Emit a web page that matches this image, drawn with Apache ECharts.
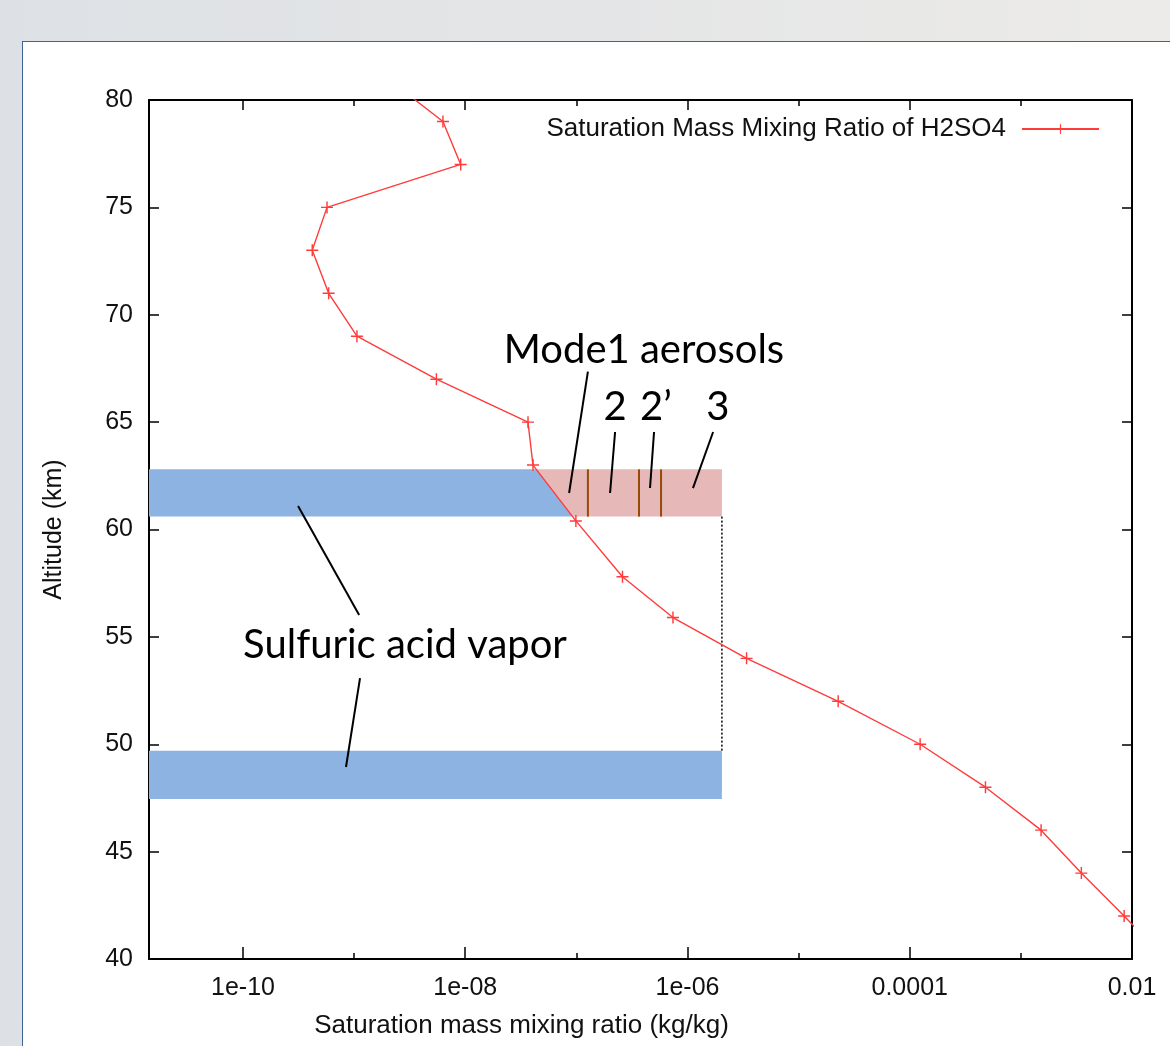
<!DOCTYPE html>
<html>
<head>
<meta charset="utf-8">
<script src="https://cdn.jsdelivr.net/npm/echarts@6/dist/echarts.min.js"></script>
<style>
  html, body { margin: 0; padding: 0; overflow: hidden; }
  body { width: 1170px; height: 1046px; background: linear-gradient(to right, #dde1e5, #e4e5e6 50%, #ecebe9); position: relative; }
  #panel { position: absolute; left: 22px; top: 41px; width: 1200px; height: 1100px; background: #fff; border: 1.5px solid #3d6496; }
  #chart { position: absolute; left: 0; top: 0; width: 1170px; height: 1046px; }
</style>
</head>
<body>
<div id="panel"></div>
<div id="chart"></div>
<script>
// saturation profile of H2SO4
const altitudeKm = [81, 79, 77, 75, 73, 71, 69, 67, 65, 63, 60.4, 57.8, 55.9, 54, 52, 50, 48, 46, 44, 42, 40];
const mixingRatio = [2.0e-9, 6.3e-9, 9.1e-9, 5.7e-10, 4.2e-10, 5.9e-10, 1.06e-9, 5.5e-9, 3.67e-8, 4.07e-8,
  9.9e-8, 2.6e-7, 7.4e-7, 3.4e-6, 2.27e-5, 1.24e-4, 4.8e-4, 1.52e-3, 3.5e-3, 8.5e-3, 2.0e-2];

const xMin = 1.426e-11, xMax = 1e-2;
const xMajorTicks = [1e-10, 1e-8, 1e-6, 1e-4, 1e-2];
const xTickLabels = ['1e-10', '1e-08', '1e-06', '0.0001', '0.01'];
const xMinorTicks = [1e-9, 1e-7, 1e-5, 1e-3];

// shaded layers: polygons in (ratio, altitude)
const vaporUpper = [[xMin, 62.8], [4.36e-8, 62.8], [9.25e-8, 60.6], [xMin, 60.6]];
const aerosolLayer = [[4.36e-8, 62.8], [2.04e-6, 62.8], [2.04e-6, 60.6], [9.25e-8, 60.6]];
const vaporLower = [[xMin, 49.7], [2.04e-6, 49.7], [2.04e-6, 47.45], [xMin, 47.45]];

// mode boundaries: [ratio, altTop, altBottom]
const modeBounds = [[1.27e-7, 62.8, 60.6], [3.66e-7, 62.8, 60.6], [5.78e-7, 62.8, 60.6]];
const dottedEdge = [[2.04e-6, 60.6, 2.04e-6, 49.7]];
// leader lines: [x1, y1, x2, y2]
const leaderLines = [
  [1.27e-7, 67.35, 8.6e-8, 61.7],
  [2.23e-7, 64.54, 2.01e-7, 61.7],
  [5.0e-7, 64.54, 4.6e-7, 61.93],
  [1.7e-6, 64.54, 1.12e-6, 61.93],
  [3.13e-10, 61.09, 1.11e-9, 56.02],
  [1.13e-9, 53.08, 8.45e-10, 48.94]
];
const noteNames = ['Mode1 aerosols', '2', '2’', '3', 'Sulfuric acid vapor'];
const notePos = [[4.06e-7, 68.36], [2.23e-7, 65.7], [5.2e-7, 65.7], [1.88e-6, 65.7], [2.87e-9, 54.62]];

const plusPath = 'path://M4.4,0H5.6V4.4H10V5.6H5.6V10H4.4V5.6H0V4.4H4.4Z';
const labelFont = 'Liberation Sans';

function areaSeries(points, color) {
  return {
    type: 'custom', silent: true, z: 1,
    encode: {x: 0, y: 1},
    data: points,
    renderItem: function (params, api) {
      if (params.dataIndex !== 0) return null;
      return {
        type: 'polygon',
        shape: {points: points.map(function (p) { return api.coord(p); })},
        style: {fill: color}
      };
    }
  };
}

function segmentSeries(data, color, width, dash, z) {
  return {
    type: 'custom', silent: true, z: z,
    encode: {x: [0, 2], y: [1, 3]},
    data: data,
    renderItem: function (params, api) {
      const a = api.coord([api.value(0), api.value(1)]);
      const b = api.coord([api.value(2), api.value(3)]);
      return {
        type: 'line',
        shape: {x1: a[0], y1: a[1], x2: b[0], y2: b[1]},
        style: {stroke: color, lineWidth: width, lineDash: dash}
      };
    }
  };
}

function tickLabel(v) {
  for (let i = 0; i < xMajorTicks.length; i++) {
    if (Math.abs(Math.log10(v) - Math.log10(xMajorTicks[i])) < 1e-6) return xTickLabels[i];
  }
  return '';
}

const baseX = {
  type: 'log', logBase: 10, min: xMin, max: xMax,
  splitLine: {show: false}, minorTick: {show: false}, minorSplitLine: {show: false}
};
const baseY = {type: 'value', min: 40, max: 80, interval: 5, splitLine: {show: false}};
const blackLine = {show: true, onZero: false, lineStyle: {color: '#000', width: 2}};

const chart = echarts.init(document.getElementById('chart'));
chart.setOption({
  animation: false,
  grid: {left: 149, right: 38, top: 100, bottom: 87},
  legend: {
    data: ['Saturation Mass Mixing Ratio of H2SO4'],
    right: 70, top: 116, padding: 0, align: 'right', itemWidth: 77, itemHeight: 12,
    selectedMode: false,
    textStyle: {fontFamily: labelFont, fontSize: 26, color: '#111', padding: [0, 11, 0, 0]}
  },
  xAxis: [
    Object.assign({}, baseX, {
      position: 'bottom', axisLine: blackLine,
      axisTick: {show: true, inside: true, length: 12, customValues: xMajorTicks, lineStyle: {color: '#000', width: 1.5}},
      axisLabel: {show: true, customValues: xMajorTicks, formatter: tickLabel, margin: 17,
        fontFamily: labelFont, fontSize: 25, color: '#111'},
      name: 'Saturation mass mixing ratio (kg/kg)', nameLocation: 'middle', nameGap: 54,
      nameTextStyle: {fontFamily: labelFont, fontSize: 26, color: '#111', padding: [0, 238, 0, 0]}
    }),
    Object.assign({}, baseX, {
      position: 'bottom', axisLine: {show: false},
      axisTick: {show: true, inside: true, length: 6, customValues: xMinorTicks, lineStyle: {color: '#000', width: 1.5}},
      axisLabel: {show: false}
    }),
    Object.assign({}, baseX, {
      position: 'top', axisLine: blackLine,
      axisTick: {show: true, inside: true, length: 10, customValues: xMajorTicks, lineStyle: {color: '#000', width: 1.5}},
      axisLabel: {show: false}
    }),
    Object.assign({}, baseX, {
      position: 'top', axisLine: {show: false},
      axisTick: {show: true, inside: true, length: 6, customValues: xMinorTicks, lineStyle: {color: '#000', width: 1.5}},
      axisLabel: {show: false}
    })
  ],
  yAxis: [
    Object.assign({}, baseY, {
      position: 'left', axisLine: blackLine,
      axisTick: {show: true, inside: true, length: 10, lineStyle: {color: '#000', width: 1.5}},
      axisLabel: {margin: 16, fontFamily: labelFont, fontSize: 25, color: '#111'},
      name: 'Altitude (km)', nameLocation: 'middle', nameGap: 82,
      nameTextStyle: {fontFamily: labelFont, fontSize: 25, color: '#111'}
    }),
    Object.assign({}, baseY, {
      position: 'right', axisLine: blackLine,
      axisTick: {show: true, inside: true, length: 10, lineStyle: {color: '#000', width: 1.5}},
      axisLabel: {show: false}
    })
  ],
  series: [
    areaSeries(aerosolLayer, '#e6b9b8'),
    areaSeries(vaporUpper, '#8db3e2'),
    areaSeries(vaporLower, '#8db3e2'),
    segmentSeries(modeBounds.map(function (b) { return [b[0], b[1], b[0], b[2]]; }), '#984807', 2, null, 2),
    segmentSeries(dottedEdge, '#000', 1.5, [2, 2], 2),
    {
      name: 'Saturation Mass Mixing Ratio of H2SO4',
      type: 'line', z: 3, clip: true,
      data: mixingRatio.map(function (v, i) { return [v, altitudeKm[i]]; }),
      symbol: plusPath, symbolSize: 12, showAllSymbol: true,
      lineStyle: {color: '#ff3b3b', width: 1.4},
      itemStyle: {color: '#ff3b3b'}
    },
    segmentSeries(leaderLines, '#000', 2, null, 4),
    {
      type: 'scatter', silent: true, z: 5, symbolSize: 0,
      itemStyle: {opacity: 1},
      data: noteNames.map(function (n, i) { return {name: n, value: notePos[i]}; }),
      label: {show: true, position: 'inside', formatter: '{b}', color: '#000', fontSize: 40, fontFamily: 'Lato'}
    }
  ]
});
</script>
</body>
</html>
